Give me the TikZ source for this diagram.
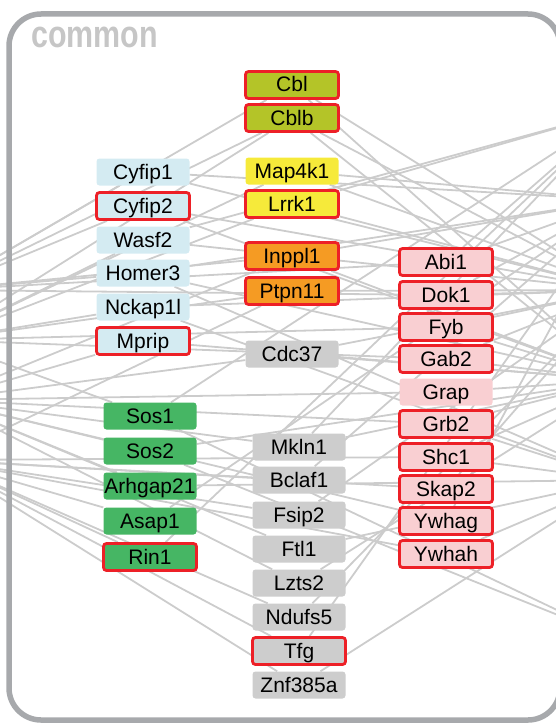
\documentclass[tikz,border=0pt]{standalone}
\usepackage{fontspec}
\setmainfont{Liberation Sans}
\usepackage{tikz}
\usetikzlibrary{backgrounds}
\definecolor{framegray}{RGB}{167,169,172}
\definecolor{titlegray}{RGB}{198,198,198}
\definecolor{linkgray}{RGB}{204,204,204}
\definecolor{hitred}{RGB}{237,32,39}
\definecolor{olive}{RGB}{180,196,40}
\definecolor{lemon}{RGB}{246,234,58}
\definecolor{amber}{RGB}{245,155,35}
\definecolor{ice}{RGB}{212,235,242}
\definecolor{ash}{RGB}{205,205,205}
\definecolor{leaf}{RGB}{70,182,100}
\definecolor{blush}{RGB}{249,207,210}

\begin{document}
\begin{tikzpicture}[x=1pt,y=-1pt,
    gene/.style={rectangle,rounded corners=3pt,minimum width=93pt,minimum height=27pt,inner sep=0pt,
      text height=15pt,text depth=1pt,font=\fontsize{21}{22}\selectfont},
    hit/.style={draw=hitred,line width=2.8pt},
    nohit/.style={},
    link/.style={draw=linkgray,line width=1.8pt}]
              \useasboundingbox(0,0)rectangle(556,725);
              \draw[framegray,line width=5.5pt,rounded corners=32pt](9,14)rectangle(560,720);
              \node[anchor=base west,inner sep=0pt,text=titlegray,font=\bfseries\fontsize{38}{38}\selectfont](title)at(31,48){\scalebox{0.8}[1]{common}};
              \foreach \h/\y in {La/290,Lb/340,Lc/400,Ld/460} \coordinate(\h)at(-60,\y);
              \foreach \h/\y in {Ra/110,Rb/200,Rc/290,Rd/380,Re/480,Rf/640} \coordinate(\h)at(620,\y);
              \foreach \n/\y/\s in {Cyfip1/172/nohit,Cyfip2/206/hit,Wasf2/240/nohit,Homer3/273/nohit,Nckap1l/307/nohit,Mprip/341/hit}
                \node[gene,fill=ice,\s](\n)at(143,\y){\n};
              \foreach \n/\y/\s in {Sos1/416/nohit,Sos2/451/nohit,Arhgap21/486/nohit,Asap1/521/nohit,Rin1/557/hit}
                \node[gene,fill=leaf,\s](\n)at(150,\y){\n};
              \foreach \n/\y/\c/\s in {Cbl/85/olive/hit,Cblb/118/olive/hit,Map4k1/171/lemon/nohit,Lrrk1/204/lemon/hit,
                  Inppl1/256/amber/hit,Ptpn11/291/amber/hit,Cdc37/354/ash/nohit}
                \node[gene,fill=\c,\s](\n)at(292,\y){\n};
              \foreach \n/\y/\s in {Mkln1/447/nohit,Bclaf1/480/nohit,Fsip2/515/nohit,Ftl1/549/nohit,Lzts2/583/nohit,
                  Ndufs5/617/nohit,Tfg/651/hit,Znf385a/685/nohit}
                \node[gene,fill=ash,\s](\n)at(299,\y){\n};
              \foreach \n/\y/\s in {Abi1/262/hit,Dok1/295/hit,Fyb/327/hit,Gab2/359/hit,Grap/392/nohit,Grb2/424/hit,
                  Shc1/457/hit,Skap2/489/hit,Ywhag/521/hit,Ywhah/554/hit}
                \node[gene,fill=blush,\s](\n)at(446,\y){\n};
              \begin{scope}[on background layer]
                \clip(0,0)rectangle(556,725);
                \foreach \a/\b in {Cbl/La,Cbl/Rd,Cbl/Rc,Cblb/La,Cblb/Rc,Cblb/Lb,Cblb/Rd,Map4k1/Lb,Map4k1/Rb,Map4k1/Rc,
                    Lrrk1/Lb,Lrrk1/Rc,Lrrk1/Ra,Inppl1/La,Inppl1/Lc,Inppl1/Rb,Inppl1/Rd,Ptpn11/Lb,Ptpn11/Ld,Ptpn11/Rc,
                    Cdc37/Lc,Cdc37/Rd,Cdc37/Rc,Mkln1/Lc,Mkln1/Ra,Mkln1/Rd,Bclaf1/Ld,Bclaf1/Rb,Fsip2/Ld,Fsip2/Rc,
                    Ftl1/Lc,Ftl1/Re,Lzts2/Lc,Lzts2/Rd,Ndufs5/Ld,Ndufs5/Rc,Tfg/Ld,Tfg/Rb,Znf385a/Ld,Znf385a/Re,
                    Cyfip1/Rc,Cyfip1/La,Cyfip1/Rb,Cyfip2/Rd,Cyfip2/La,Cyfip2/Rc,Wasf2/Ra,Wasf2/Lb,Wasf2/Rc,
                    Homer3/Rb,Homer3/Re,Homer3/La,Homer3/Rd,Nckap1l/Rc,Nckap1l/Lb,Nckap1l/Re,Mprip/Rd,Mprip/Lc,
                    Sos1/Lb,Sos1/Ra,Sos1/Rf,Sos2/Lc,Sos2/Rd,Sos2/Rf,Arhgap21/Lc,Arhgap21/Re,Asap1/Ld,Asap1/Rb,Rin1/Ld,Rin1/Ra,
                    Abi1/La,Abi1/Rb,Abi1/Ra,Dok1/La,Dok1/Rc,Dok1/Rb,Fyb/Lb,Fyb/Rc,Fyb/Rd,Gab2/Lb,Gab2/Rd,Gab2/Rc,
                    Grap/Lc,Grap/Rd,Grb2/Lc,Grb2/Re,Grb2/Rd,Shc1/Ld,Shc1/Re,Shc1/Rd,Skap2/Ld,Skap2/Rc,
                    Ywhag/Lc,Ywhag/Rb,Ywhah/Ld,Ywhah/Re}
                  \draw[link](\a)--(\b);
              \end{scope}
            \end{tikzpicture}
\end{document}
